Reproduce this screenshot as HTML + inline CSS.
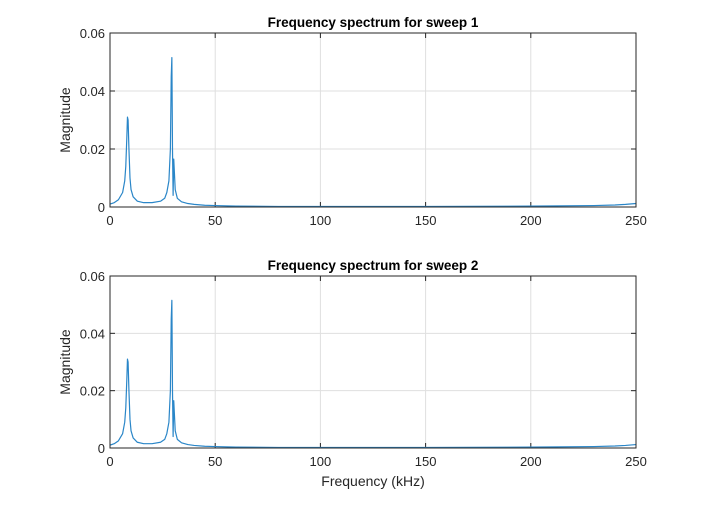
<!DOCTYPE html>
<html><head><meta charset="utf-8"><style>
body{margin:0;background:#fff;font-family:"Liberation Sans",Arial,sans-serif}
svg text{font-family:"Liberation Sans",Arial,sans-serif}
</style></head><body>
<svg id="c" width="720" height="503"></svg>
<script>
const freqs=[0,2,4,6,7,7.5,8,8.3,8.6,9,9.5,10,11,13,16,20,24,26,27,28,28.7,29.1,29.4,29.7,30,30.3,30.6,31,32,34,37,40,45,50,60,80,100,150,200,230,240,245,250];
const sweep1=[0.001,0.0015,0.0025,0.005,0.009,0.014,0.024,0.031,0.030,0.02,0.01,0.006,0.0035,0.002,0.0015,0.0015,0.002,0.003,0.005,0.009,0.02,0.045,0.0515,0.02,0.004,0.0165,0.012,0.006,0.003,0.0018,0.0012,0.0009,0.0006,0.0005,0.0003,0.0002,0.0002,0.0002,0.0003,0.0005,0.0007,0.0009,0.0012];
const sweep2=sweep1.slice();
const xTicks=[0,50,100,150,200,250];
const yTicks=[0,0.02,0.04,0.06];
const yTickLabels=["0","0.02","0.04","0.06"];
const titles=["Frequency spectrum for sweep 1","Frequency spectrum for sweep 2"];
const NS="http://www.w3.org/2000/svg";
const svg=document.getElementById('c');
function mk(t,a,p){const e=document.createElementNS(NS,t);for(const k in a)e.setAttribute(k,a[k]);(p||svg).appendChild(e);return e;}
const L=110,R=636;
const panels=[{top:33,bot:207,data:sweep1},{top:276,bot:448,data:sweep2}];
panels.forEach((p,i)=>{
  const g=mk('g',{});
  
  
  const xs=v=>L+(v-0)/250*(R-L);
  const ys=v=>p.bot-(v/0.06)*(p.bot-p.top);
  mk('rect',{x:L,y:p.top,width:R-L,height:p.bot-p.top,fill:'#fff'},g);
  xTicks.forEach(t=>{
    const l=mk('line',{x1:xs(t),x2:xs(t),y1:p.top,y2:p.bot,stroke:'#dfdfdf','stroke-width':1},g);
    
    mk('line',{x1:xs(t),x2:xs(t),y1:p.bot,y2:p.bot-5,stroke:'#262626'},g);
    mk('line',{x1:xs(t),x2:xs(t),y1:p.top,y2:p.top+5,stroke:'#262626'},g);
    const tx=mk('text',{x:xs(t),y:p.bot+18,'text-anchor':'middle','font-size':13,fill:'#262626'},g);
    tx.textContent=t;
    
  });
  yTicks.forEach((t,j)=>{
    mk('line',{x1:L,x2:R,y1:ys(t),y2:ys(t),stroke:'#dfdfdf'},g);
    mk('line',{x1:L,x2:L+5,y1:ys(t),y2:ys(t),stroke:'#262626'},g);
    mk('line',{x1:R,x2:R-5,y1:ys(t),y2:ys(t),stroke:'#262626'},g);
    const tx=mk('text',{x:L-5,y:ys(t)+5,'text-anchor':'end','font-size':13,fill:'#262626'},g);
    tx.textContent=yTickLabels[j];
    
  });
  const pts=freqs.map((f,k)=>xs(f).toFixed(2)+','+ys(p.data[k]).toFixed(2)).join(' ');
  const line=mk('polyline',{points:pts,fill:'none',stroke:'#2a86c8','stroke-width':1.2,'stroke-linejoin':'round'},g);
  
  mk('rect',{x:L,y:p.top,width:R-L,height:p.bot-p.top,fill:'none',stroke:'#262626','stroke-width':1},g);
  const ti=mk('text',{x:(L+R)/2,y:p.top-6,'text-anchor':'middle','font-size':13.5,'font-weight':'bold',fill:'#000'},g);
  ti.textContent=titles[i];
  
  const yl=mk('text',{x:0,y:0,transform:`translate(70,${(p.top+p.bot)/2}) rotate(-90)`,'text-anchor':'middle','font-size':14,fill:'#262626'},g);
  yl.textContent='Magnitude';
  
});
const xl=mk('text',{x:(L+R)/2,y:486,'text-anchor':'middle','font-size':14,fill:'#262626'});
xl.textContent='Frequency (kHz)';


</script>
</body></html>
